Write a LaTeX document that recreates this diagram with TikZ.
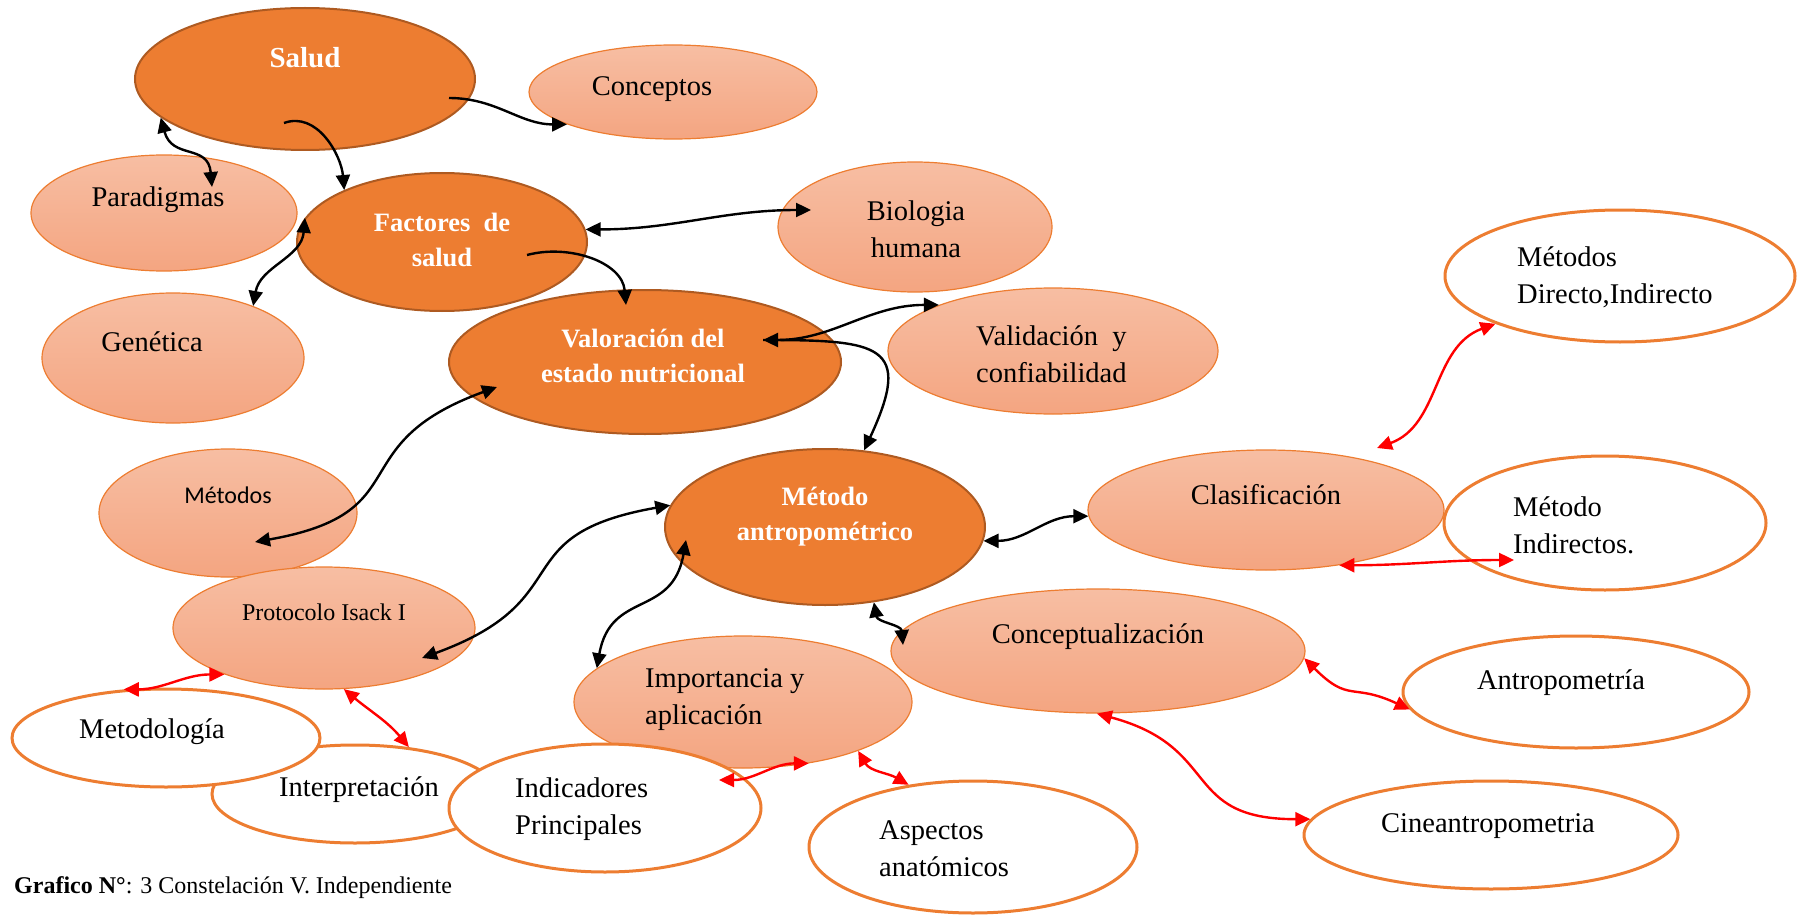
\documentclass[tikz,border=0pt]{standalone}
\usepackage{fontspec}
\setmainfont{Liberation Serif}
\newfontfamily\calibrifont{Carlito}
\usetikzlibrary{shapes.geometric,arrows.meta}

\definecolor{naranja}{HTML}{ED7D31}
\definecolor{borde}{HTML}{AE5A21}
\definecolor{claroA}{HTML}{F7BEA3}
\definecolor{claroB}{HTML}{F4A581}

\begin{document}
\begin{tikzpicture}[x=1pt,y=1pt,
  >={Triangle[length=15pt,width=14pt]},
  fuerte/.style={ellipse, inner sep=0, fill=naranja, draw=borde, line width=2pt},
  claro/.style={ellipse, inner sep=0, top color=claroA, bottom color=claroB, draw=naranja, line width=1.2pt},
  blanco/.style={ellipse, inner sep=0, fill=white, draw=naranja, line width=3pt},
  txt/.style={inner sep=0, font=\fontsize{28.5}{37}\selectfont},
  txtb/.style={inner sep=0, text=white, font=\bfseries\fontsize{26.5}{35}\selectfont},
  simple/.style={->, line width=2.4pt},
  doble/.style={<->, line width=2.4pt},
  rojo/.style={<->, red, line width=2.4pt}]
  \useasboundingbox (0,0) rectangle (1797,-915);

  % Ellipses
  \node[fuerte, minimum width=340pt, minimum height=142pt] (salud) at (305,-79) {};
  \node[claro, minimum width=288pt, minimum height=94pt] (conceptos) at (673,-92) {};
  \node[claro, minimum width=266pt, minimum height=116pt] (paradigmas) at (164,-213) {};
  \node[fuerte, minimum width=290pt, minimum height=138pt] (factores) at (442,-242) {};
  \node[claro, minimum width=262pt, minimum height=130pt] (genetica) at (173,-358) {};
  \node[claro, minimum width=274pt, minimum height=130pt] (biologia) at (915,-227) {};
  \node[fuerte, minimum width=392pt, minimum height=144pt] (valoracion) at (645,-362) {};
  \node[claro, minimum width=330pt, minimum height=126pt] (validacion) at (1053,-351) {};
  \node[blanco, minimum width=350pt, minimum height=132pt] (metdirecto) at (1620,-276) {};
  \node[claro, minimum width=258pt, minimum height=128pt] (metodos) at (228,-513) {};
  \node[claro, minimum width=302pt, minimum height=122pt] (protocolo) at (324,-628) {};
  \node[fuerte, minimum width=320pt, minimum height=156pt] (antropometrico) at (825,-527) {};
  \node[claro, minimum width=356pt, minimum height=120pt] (clasificacion) at (1266,-510) {};
  \node[blanco, minimum width=322pt, minimum height=134pt] (metindirectos) at (1605,-523) {};
  \node[claro, minimum width=414pt, minimum height=124pt] (conceptualizacion) at (1098,-651) {};
  \node[claro, minimum width=338pt, minimum height=132pt] (importancia) at (743,-702) {};
  \node[blanco, minimum width=346pt, minimum height=112pt] (antropometria) at (1576,-692) {};
  \node[blanco, minimum width=286pt, minimum height=98pt] (interpretacion) at (355,-794) {};
  \node[blanco, minimum width=308pt, minimum height=98pt] (metodologia) at (166,-738) {};
  \node[blanco, minimum width=312pt, minimum height=128pt] (indicadores) at (605,-808) {};
  \node[blanco, minimum width=328pt, minimum height=132pt] (aspectos) at (973,-847) {};
  \node[blanco, minimum width=374pt, minimum height=108pt] (cineantropometria) at (1491,-835) {};

  % Texts
  \node[txtb, font=\bfseries\fontsize{29}{35}\selectfont] (t-salud) at (305,-58) {Salud};
  \node[txt] (t-conceptos) at (652,-89) {Conceptos};
  \node[txt] (t-paradigmas) at (158,-200) {Paradigmas};
  \node[txtb, align=center] (t-factores) at (442,-240) {Factores\ \ de\\salud};
  \node[txt] (t-genetica) at (152,-342) {Genética};
  \node[txt, align=center] (t-biologia) at (916,-229) {Biologia\\humana};
  \node[txtb, align=center] (t-valoracion) at (643,-356) {Valoración del\\estado nutricional};
  \node[txt, align=left, anchor=west] (t-validacion) at (976,-354) {Validación\ \ y\\confiabilidad};
  \node[txt, align=left, anchor=west] (t-metdirecto) at (1517,-277) {Métodos\\Directo,Indirecto};
  \node[inner sep=0, font=\calibrifont\fontsize{24}{29}\selectfont] (t-metodos) at (228,-495) {Métodos};
  \node[txt, font=\fontsize{24}{29}\selectfont] (t-protocolo) at (324,-612) {Protocolo Isack I};
  \node[txtb, align=center] (t-antropometrico) at (825,-517) {Método\\antropométrico};
  \node[txt] (t-clasificacion) at (1266,-495) {Clasificación};
  \node[txt, align=left, anchor=west] (t-metindirectos) at (1513,-525) {Método\\Indirectos.};
  \node[txt] (t-conceptualizacion) at (1098,-637) {Conceptualización};
  \node[txt, align=left, anchor=west] (t-importancia) at (645,-700) {Importancia y\\aplicación};
  \node[txt] (t-antropometria) at (1561,-683) {Antropometría};
  \node[txt] (t-metodologia) at (152,-732) {Metodología};
  \node[txt] (t-interpretacion) at (359,-790) {Interpretación};
  \node[txt, align=left, anchor=west] (t-indicadores) at (515,-809) {Indicadores\\Principales};
  \node[txt, align=left, anchor=west] (t-aspectos) at (879,-849) {Aspectos\\anatómicos};
  \node[txt] (t-cineantropometria) at (1488,-826) {Cineantropometria};
  \node[inner sep=0, anchor=west, font=\fontsize{24}{29}\selectfont] (grafico) at (14,-888) {\textbf{Grafico N°}: 3 Constelación V. Independiente};

  % Black connectors
  \draw[simple] ([shift={(-21,-44)}]salud.center) to[out=20,in=95] (factores.152);
  \draw[simple] ([shift={(144,-19)}]salud.center) to[out=0,in=180] (conceptos.197);
  \draw[doble] (salud.195) to[out=-75,in=95,looseness=1.3] ([shift={(48,26)}]paradigmas.center);
  \draw[doble] (factores.5) to[out=0,in=180] ([shift={(-104,17)}]biologia.center);
  \draw[doble] (factores.170) to[out=-95,in=80] (genetica.33);
  \draw[simple] ([shift={(85,-13)}]factores.center) to[out=15,in=95] ([shift={(-19,57)}]valoracion.center);
  \draw[doble] ([shift={(118,22)}]valoracion.center) to[out=0,in=180] (validacion.158);
  \draw[simple] ([shift={(118,22)}]valoracion.center) to[out=0,in=65,looseness=2] (antropometrico.63);
  \draw[doble] ([shift={(-148,-25)}]valoracion.center) to[out=200,in=10,looseness=1.5] ([shift={(27,-29)}]metodos.center);
  \draw[doble] (antropometrico.172) to[out=190,in=20,looseness=1.5] ([shift={(98,-30)}]protocolo.center);
  \draw[doble] ([shift={(-139,-13)}]antropometrico.center) to[out=-100,in=80,looseness=1.3] (importancia.167);
  \draw[doble] (antropometrico.-5) to[out=0,in=180] (clasificacion.182);
  \draw[doble] (antropometrico.-57) to[out=-80,in=95] ([shift={(-195,6)}]conceptualizacion.center);

  % Red connectors
  \draw[rojo] ([shift={(111,62)}]clasificacion.center) to[out=20,in=200] (metdirecto.201);
  \draw[rojo] (clasificacion.-37) to[out=0,in=180] ([shift={(-91,-37)}]metindirectos.center);
  \draw[rojo] (conceptualizacion.-2) to[out=-45,in=155,looseness=1.4] (antropometria.186);
  \draw[rojo] (conceptualizacion.-91) to[out=-15,in=180,looseness=1.4] (cineantropometria.175);
  \draw[rojo] (protocolo.205) to[out=180,in=0] (metodologia.131);
  \draw[rojo] (protocolo.-72) to[out=-40,in=130] (interpretacion.41);
  \draw[rojo] ([shift={(114,28)}]indicadores.center) to[out=0,in=180] (importancia.-43);
  \draw[rojo] (importancia.-23) to[out=-60,in=150] (aspectos.136);
\end{tikzpicture}
\end{document}
